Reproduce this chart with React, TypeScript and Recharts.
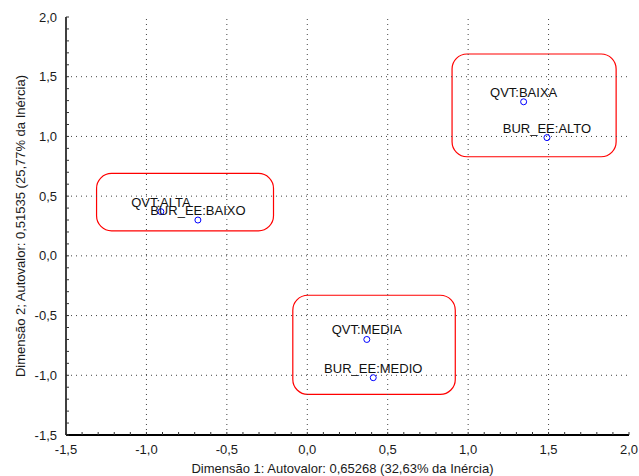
import React from "react";
import { ScatterChart, Scatter, XAxis, YAxis, ReferenceLine, ReferenceArea } from "recharts";

// Coordenadas das categorias nas duas primeiras dimensões
const categoryNames = ["QVT:BAIXA", "BUR_EE:ALTO", "QVT:ALTA", "BUR_EE:BAIXO", "QVT:MEDIA", "BUR_EE:MEDIO"];
const dim1Values = [1.345, 1.49, -0.91, -0.68, 0.37, 0.41];
const dim2Values = [1.29, 0.99, 0.37, 0.3, -0.7, -1.02];

const axisDomain = [-1.5, 2.0];
const majorTicks = [-1.5, -1.0, -0.5, 0.0, 0.5, 1.0, 1.5, 2.0];
const minorTicks = [
  -1.5, -1.4, -1.3, -1.2, -1.1, -1.0, -0.9, -0.8, -0.7, -0.6, -0.5, -0.4, -0.3, -0.2, -0.1, 0.0,
  0.1, 0.2, 0.3, 0.4, 0.5, 0.6, 0.7, 0.8, 0.9, 1.0, 1.1, 1.2, 1.3, 1.4, 1.5, 1.6, 1.7, 1.8, 1.9, 2.0,
];
const gridValues = [-1.0, -0.5, 0.0, 0.5, 1.0, 1.5];

// grupos destacados: [x1, x2, y1, y2]
const groupBoxes = [
  [0.9, 1.92, 0.83, 1.69],
  [-1.31, -0.21, 0.21, 0.69],
  [-0.09, 0.92, -1.16, -0.33],
];

const data = categoryNames.map((name, i) => ({ name, x: dim1Values[i], y: dim2Values[i] }));

const FONT = "Arial, 'Liberation Sans', sans-serif";
const isMajor = (v: number) => majorTicks.some(m => Math.abs(m - v) < 1e-6);
const fmt = (v: number) => v.toFixed(1).replace(".", ",");

const BottomTick = ({ x, y, payload }: any) => (
  <g>
    <line x1={x} x2={x} y1={y} y2={y - 3} stroke="#333" />
    {isMajor(payload.value) && (
      <text x={x} y={y + 19} textAnchor="middle" fontSize={13} fill="#1a1a1a" fontFamily={FONT}>
        {fmt(payload.value)}
      </text>
    )}
  </g>
);

const LeftTick = ({ x, y, payload }: any) => (
  <g>
    <line x1={x} x2={x + 3} y1={y} y2={y} stroke="#333" />
    {isMajor(payload.value) && (
      <text x={x - 9} y={y + 4.5} textAnchor="end" fontSize={13} fill="#1a1a1a" fontFamily={FONT}>
        {fmt(payload.value)}
      </text>
    )}
  </g>
);

const TopTick = ({ x, y }: any) => <line x1={x} x2={x} y1={y} y2={y + 3} stroke="#555" />;
const RightTick = ({ x, y }: any) => <line x1={x} x2={x - 3} y1={y} y2={y} stroke="#555" />;

const PointShape = ({ cx, cy, payload }: any) => (
  <g>
    <text x={cx} y={cy - 5} textAnchor="middle" fontSize={13} fill="#111" fontFamily={FONT}>
      {payload.name}
    </text>
    <circle cx={cx} cy={cy} r={3} fill="none" stroke="#0000ff" strokeWidth={1} />
  </g>
);

const GroupBox = ({ x, y, width, height }: any) => (
  <rect x={x} y={y} width={width} height={height} rx={15} ry={15} fill="none" stroke="#ff0000" strokeWidth={1.2} />
);

const App = () => (
  <div style={{ position: "absolute", left: 0, top: 0, background: "#fff" }}>
    <ScatterChart width={639} height={476} margin={{ top: 17, right: 10, bottom: 0, left: 0 }} style={{ fontFamily: FONT }}>
      <XAxis
        dataKey="x"
        type="number"
        domain={axisDomain}
        ticks={minorTicks}
        interval={0}
        allowDataOverflow
        height={41}
        tickSize={0}
        tickMargin={0}
        tick={<BottomTick />}
        axisLine={{ stroke: "#000", strokeWidth: 2 }}
        label={{
          content: ({ viewBox }: any) => (
            <text x={viewBox.x + viewBox.width / 2 - 5} y={viewBox.y + 38} textAnchor="middle" fontSize={13} fill="#1a1a1a" fontFamily={FONT}>
              Dimensão 1: Autovalor: 0,65268 (32,63% da Inércia)
            </text>
          ),
        }}
      />
      <YAxis
        dataKey="y"
        type="number"
        domain={axisDomain}
        ticks={minorTicks}
        interval={0}
        allowDataOverflow
        width={66}
        tickSize={0}
        tickMargin={0}
        tick={<LeftTick />}
        axisLine={{ stroke: "#000", strokeWidth: 1.5 }}
        label={{
          content: ({ viewBox }: any) => {
            const cx = viewBox.x + 25;
            const cy = viewBox.y + viewBox.height / 2;
            return (
              <text x={cx} y={cy} transform={`rotate(-90, ${cx}, ${cy})`} textAnchor="middle" fontSize={13} fill="#1a1a1a" fontFamily={FONT}>
                Dimensão 2; Autovalor: 0,51535 (25,77% da Inércia)
              </text>
            );
          },
        }}
      />
      <XAxis
        xAxisId="top"
        orientation="top"
        type="number"
        domain={axisDomain}
        ticks={minorTicks}
        interval={0}
        allowDataOverflow
        height={0}
        tickSize={0}
        tickMargin={0}
        tick={<TopTick />}
        axisLine={{ stroke: "#555", strokeWidth: 1 }}
      />
      <YAxis
        yAxisId="right"
        orientation="right"
        type="number"
        domain={axisDomain}
        ticks={minorTicks}
        interval={0}
        allowDataOverflow
        width={0}
        tickSize={0}
        tickMargin={0}
        tick={<RightTick />}
        axisLine={{ stroke: "#555", strokeWidth: 1 }}
      />
      {gridValues.map(v => (
        <ReferenceLine key={`gx${v}`} x={v} stroke="#444" strokeDasharray="1 4" />
      ))}
      {gridValues.map(v => (
        <ReferenceLine key={`gy${v}`} y={v} stroke="#444" strokeDasharray="1 4" />
      ))}
      {groupBoxes.map((b, i) => (
        <ReferenceArea key={`box${i}`} x1={b[0]} x2={b[1]} y1={b[2]} y2={b[3]} shape={<GroupBox />} />
      ))}
      <Scatter data={data} isAnimationActive={false} shape={<PointShape />} />
    </ScatterChart>
  </div>
);

export default App;
